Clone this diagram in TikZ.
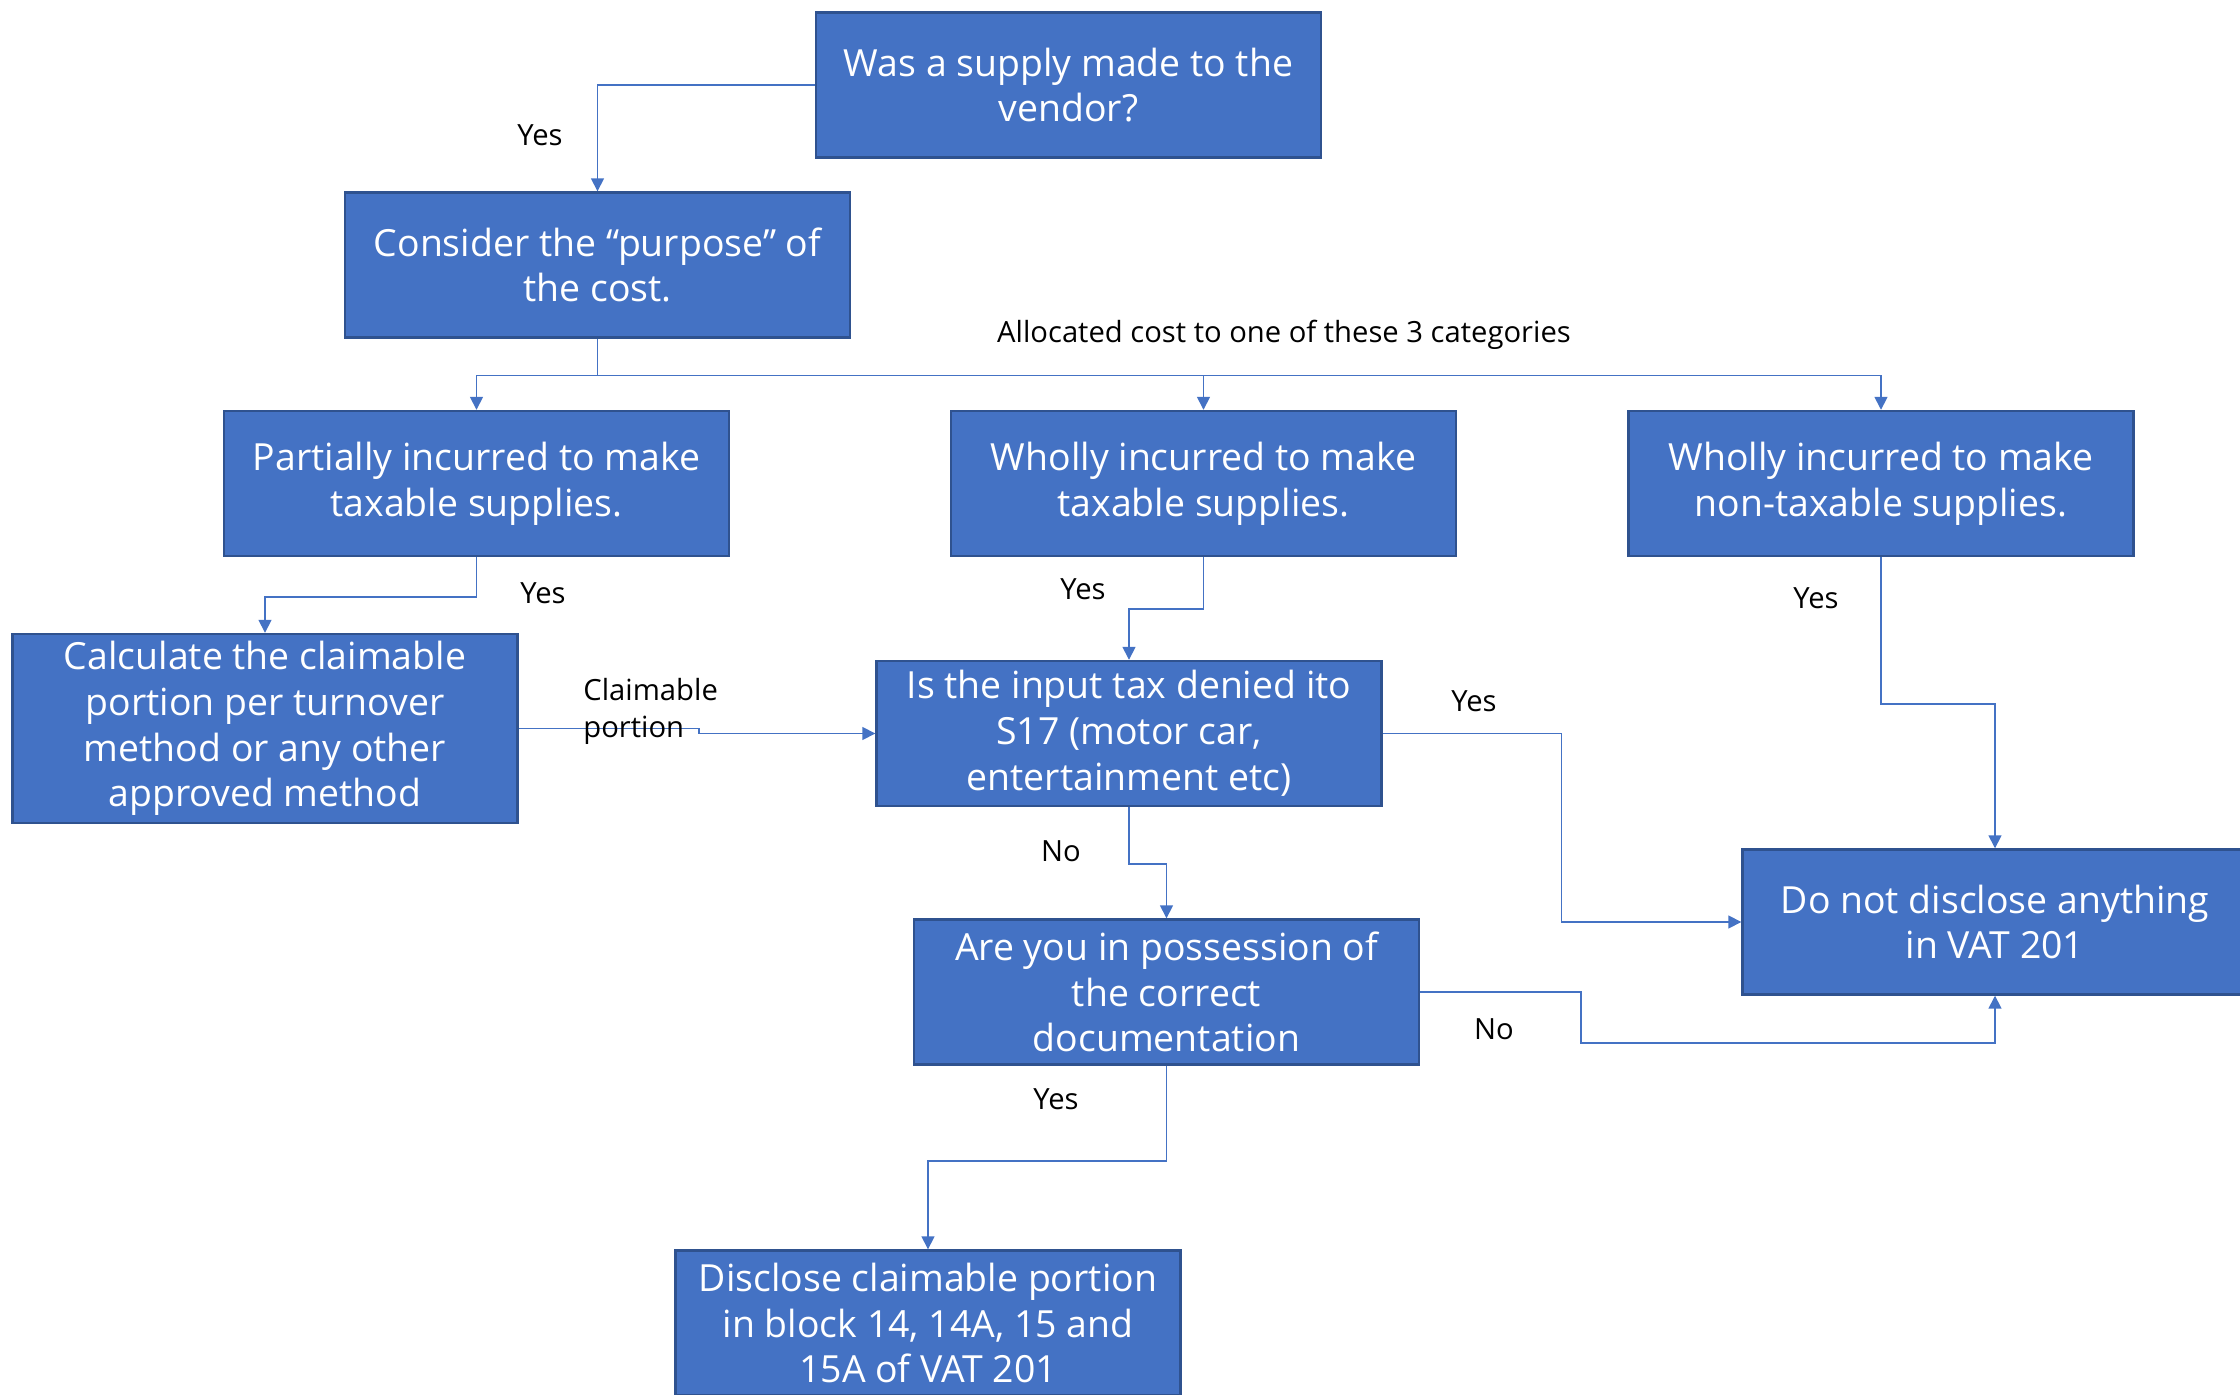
\documentclass[tikz,border=0pt]{standalone}
\usepackage{fontspec}
\setmainfont{Open Sans}
\usetikzlibrary{arrows.meta,calc}
\definecolor{boxfill}{HTML}{4472C4}
\definecolor{boxedge}{HTML}{2F528F}
\definecolor{linkblue}{HTML}{4472C4}
\tikzset{
  stepbox/.style={rectangle, fill=boxfill, draw=boxedge, line width=1.2pt,
    text=white, align=center, inner sep=2pt,
    minimum width=252.5pt, minimum height=72.5pt,
    font=\fontsize{18.7}{22.9}\selectfont},
  tallbox/.style={stepbox, minimum height=94.5pt},
  conn/.style={draw=linkblue, line width=0.8pt,
    -{Triangle[length=6.5pt,width=6.5pt]}},
  plainline/.style={draw=linkblue, line width=0.8pt},
  lbl/.style={text=black, inner sep=0pt, font=\fontsize{14.6}{17.5}\selectfont},
}
\begin{document}
\begin{tikzpicture}[x=0.5pt, y=-0.5pt]
\useasboundingbox (0,0) rectangle (2240,1395);

% decision and action boxes
\node[stepbox] (supply)   at (1068.5,85)  {Was a supply made to the\\vendor?};
\node[stepbox] (purpose)  at (597.5,265)  {Consider the “purpose” of\\the cost.};
\node[stepbox] (partial)  at (476.5,483.5) {Partially incurred to make\\taxable supplies.};
\node[stepbox] (wholly)   at (1203.5,483.5) {Wholly incurred to make\\taxable supplies.};
\node[stepbox] (nontax)   at (1881,483.5) {Wholly incurred to make\\non-taxable supplies.};
\node[tallbox] (calc)     at (265,728.5)  {Calculate the claimable\\portion per turnover\\method or any other\\approved method};
\node[stepbox] (denied)   at (1129,733.5) {Is the input tax denied ito\\S17 (motor car,\\entertainment etc)};
\node[stepbox] (docs)     at (1166.5,992) {Are you in possession of\\the correct\\documentation};
\node[stepbox] (nodisc)   at (1995,922)   {Do not disclose anything\\in VAT 201};
\node[stepbox] (disclose) at (928,1323)   {Disclose claimable portion\\in block 14, 14A, 15 and\\15A of VAT 201};

% connectors
\draw[conn] (supply.west) -| (purpose.north);
\draw[plainline] (purpose.south) -- ++(0,37) coordinate (split);
\draw[conn] (split) -| (partial.north);
\draw[conn] (split) -| (wholly.north);
\draw[conn] (split) -| (nontax.north);
\draw[conn] (partial.south) -- ++(0,40) -| (calc.north);
\draw[conn] (wholly.south) -- ++(0,52) -| (denied.north);
\draw[conn] (calc.east) -- ++(180,0) |- (denied.west);
\draw[conn] (nontax.south) -- ++(0,147) -| (nodisc.north);
\draw[conn] (denied.east) -| ($(nodisc.west)+(-180,0)$) -- (nodisc.west);
\draw[conn] (denied.south) -- ++(0,57) -| (docs.north);
\draw[conn] (docs.east) -- ++(161,0) |- ($(nodisc.south)+(0,47)$) -- (nodisc.south);
\draw[conn] (docs.south) -- ++(0,95) -| (disclose.north);

% connector labels
\node[lbl] (l1) at (540,135) {Yes};
\node[lbl] (l2) at (1284,335) {Allocated cost to one of these 3 categories};
\node[lbl] (l3) at (543,593) {Yes};
\node[lbl] (l4) at (1083,589) {Yes};
\node[lbl, anchor=west, align=left, font=\fontsize{14.6}{18.5}\selectfont] (l5) at (583,711) {Claimable\\portion};
\node[lbl] (l6) at (1816,598) {Yes};
\node[lbl] (l7) at (1474,701) {Yes};
\node[lbl] (l8) at (1061,851) {No};
\node[lbl] (l9) at (1494,1029) {No};
\node[lbl] (l10) at (1056,1099) {Yes};
\end{tikzpicture}
\end{document}
